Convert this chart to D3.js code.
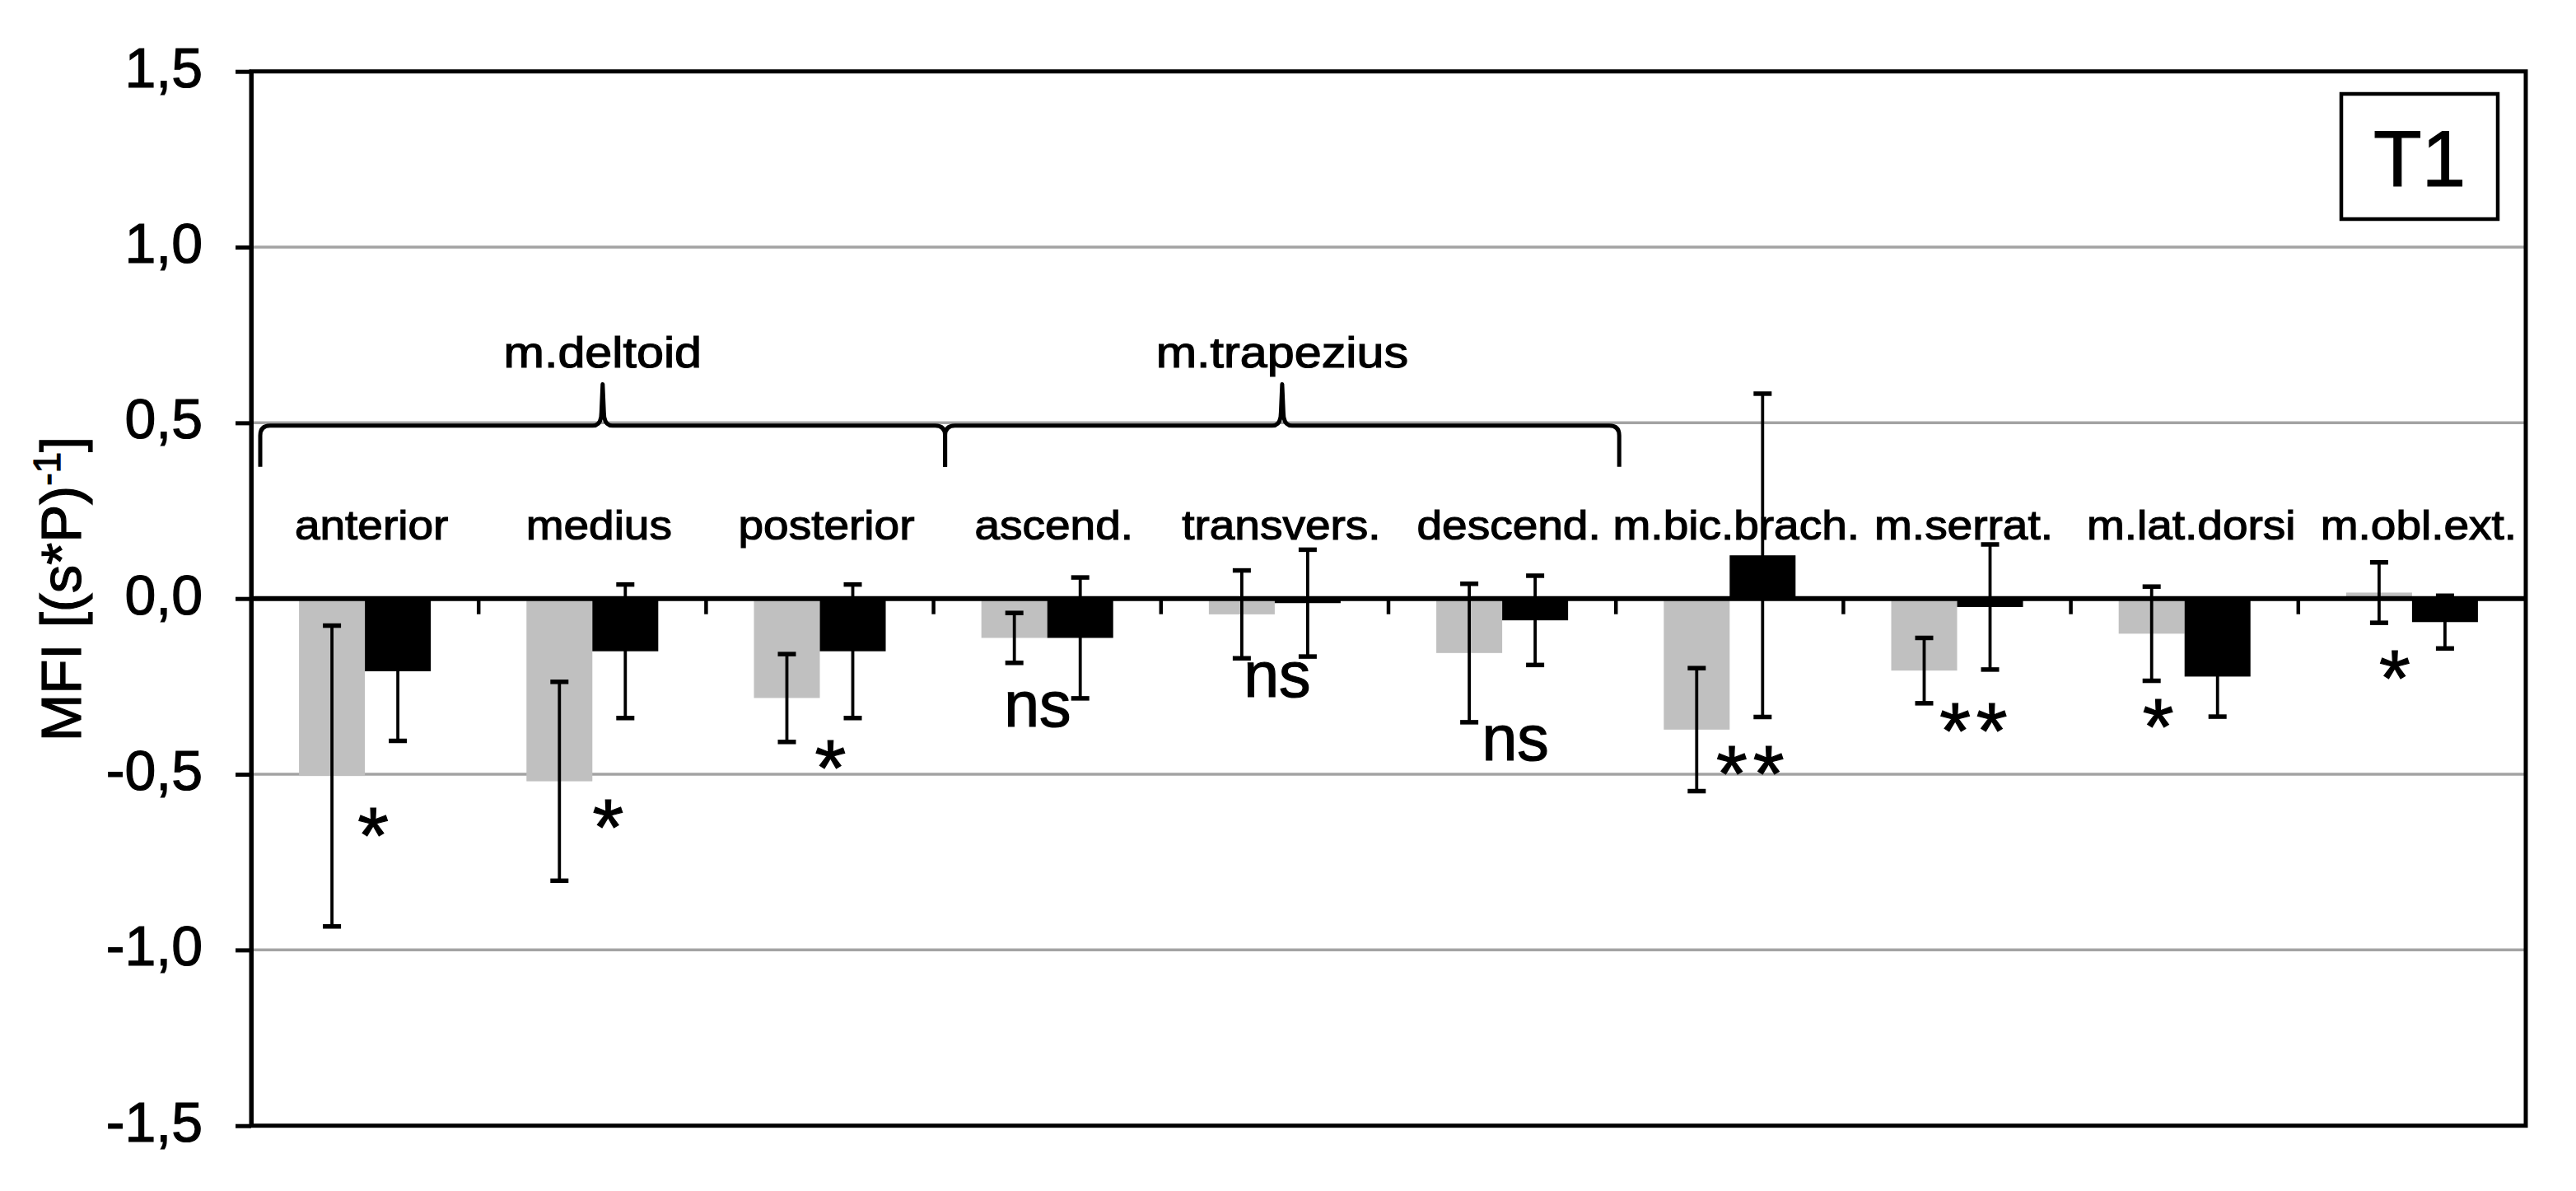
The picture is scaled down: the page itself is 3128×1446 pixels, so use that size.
<!DOCTYPE html>
<html><head><meta charset="utf-8">
<script src="https://cdn.jsdelivr.net/npm/d3@7"></script>
<style>body{margin:0;background:#fff} text{stroke:#000;stroke-width:1.2px;paint-order:stroke}</style>
</head><body><svg id="c" width="3128" height="1446" xmlns="http://www.w3.org/2000/svg"></svg>
<script>
// ---------------- data ----------------
const categories = ["anterior","medius","posterior","ascend.","transvers.","descend.","m.bic.brach.","m.serrat.","m.lat.dorsi","m.obl.ext."];
const grayMean  = [-0.505,-0.520,-0.283,-0.112,-0.045,-0.155,-0.373,-0.205,-0.100, 0.017];
const graySD    = [ 0.428, 0.283, 0.125, 0.071, 0.125, 0.197, 0.175, 0.093, 0.134, 0.086];
const blackMean = [-0.207,-0.150,-0.150,-0.112,-0.013,-0.062, 0.123,-0.024,-0.222,-0.067];
const blackSD   = [ 0.198, 0.190, 0.190, 0.172, 0.152, 0.127, 0.460, 0.178, 0.114, 0.075];
const significance = ["*","*","*","ns","ns","ns","**","**","*","*"];
const sigLevel = [-0.623,-0.600,-0.431,-0.316,-0.232,-0.412,-0.448,-0.326,-0.314,-0.176];
const sigShift = [0.036,0.069,0.047,-0.043,0.011,0.058,0.090,0.072,-0.116,-0.076];
const yTicks = [-1.5,-1.0,-0.5,0.0,0.5,1.0,1.5];
const groupLabels = ["m.deltoid","m.trapezius"];
const groupFrom = [0,3];
const groupTo = [2,5];
const yTitle = "MFI [(s*P)";
const yTitleSup = "-1";
const panelLabel = "T1";

// ---------------- layout ----------------
const FONT = "'Liberation Sans', Arial, Helvetica, sans-serif";
const L = 305, R = 3067, T = 86.7, B = 1366.7;
const svg = d3.select("#c");
const y = d3.scaleLinear().domain([-1.5, 1.5]).range([B, T]);
const x0 = d3.scaleBand().domain(categories).range([L, R]).padding(0);
const x1 = d3.scaleBand().domain(["g","b"]).range([0, x0.bandwidth()]).paddingInner(0).paddingOuter(0.726);
const cx = c => x0(c) + x0.bandwidth() / 2;

// gridlines
svg.append("g").selectAll("line").data(yTicks.filter(t => t !== 0 && Math.abs(t) !== 1.5)).join("line")
  .attr("x1", L).attr("x2", R).attr("y1", d => y(d)).attr("y2", d => y(d))
  .attr("stroke", "#a3a3a3").attr("stroke-width", 3.5);

// category labels
svg.append("g").selectAll("text").data(categories).join("text")
  .attr("transform", d => `translate(${cx(d) + 8},655) scale(1.1,1)`)
  .attr("text-anchor", "middle").attr("font-family", FONT).attr("font-size", 50).attr("fill", "#000")
  .text(d => d);

// bars
const rows = categories.map((c, i) => ({c, i}));
function bars(mean, key, color) {
  svg.append("g").selectAll("rect").data(rows).join("rect")
    .attr("x", d => x0(d.c) + x1(key)).attr("width", x1.bandwidth())
    .attr("y", d => y(Math.max(0, mean[d.i])))
    .attr("height", d => Math.abs(y(mean[d.i]) - y(0)))
    .attr("fill", color);
}
bars(grayMean, "g", "#c0c0c0");
bars(blackMean, "b", "#000000");

// zero line & category separators
svg.append("line").attr("x1", L).attr("x2", R).attr("y1", y(0)).attr("y2", y(0))
  .attr("stroke", "#000").attr("stroke-width", 6);
svg.append("g").selectAll("line").data(categories.slice(1)).join("line")
  .attr("x1", d => x0(d)).attr("x2", d => x0(d)).attr("y1", y(0)).attr("y2", y(0) + 19)
  .attr("stroke", "#000").attr("stroke-width", 4.5);

// error bars
function errs(mean, sd, key) {
  const g = svg.append("g").attr("stroke", "#000");
  rows.forEach(d => {
    const xm = x0(d.c) + x1(key) + x1.bandwidth() / 2;
    const lo = y(mean[d.i] - sd[d.i]), hi = y(mean[d.i] + sd[d.i]);
    g.append("line").attr("x1", xm).attr("x2", xm).attr("y1", lo).attr("y2", hi).attr("stroke-width", 3.8);
    [lo, hi].forEach(v => g.append("line").attr("x1", xm - 11).attr("x2", xm + 11).attr("y1", v).attr("y2", v).attr("stroke-width", 5.5));
  });
}
errs(grayMean, graySD, "g");
errs(blackMean, blackSD, "b");

// significance markers
rows.forEach(d => {
  const s = significance[d.i];
  const isStar = s.indexOf("*") >= 0;
  const fs = isStar ? 97 : 77;
  const base = y(sigLevel[d.i]) + (isStar ? 0.572 * fs : 0.26 * fs);
  svg.append("text")
    .attr("x", cx(d.c) + sigShift[d.i] * x0.bandwidth() + (isStar && s.length > 1 ? 3.5 : 0))
    .attr("y", base)
    .attr("text-anchor", "middle").attr("font-family", FONT).attr("font-size", fs)
    .attr("letter-spacing", isStar && s.length > 1 ? 7 : 0)
    .text(s);
});

// braces
function brace(xa, xb, yh, ye, yt) {
  const xc = (xa + xb) / 2, r = 12;
  const p = d3.path();
  p.moveTo(xa, ye);
  p.lineTo(xa, yh + r);
  p.quadraticCurveTo(xa, yh, xa + r, yh);
  p.lineTo(xc - 12, yh);
  p.quadraticCurveTo(xc - 1.5, yh, xc - 1.5, yh - 16);
  p.lineTo(xc, yt);
  p.lineTo(xc + 1.5, yh - 16);
  p.quadraticCurveTo(xc + 1.5, yh, xc + 12, yh);
  p.lineTo(xb - r, yh);
  p.quadraticCurveTo(xb, yh, xb, yh + r);
  p.lineTo(xb, ye);
  return p.toString();
}
groupLabels.forEach((lab, k) => {
  const xa = x0(categories[groupFrom[k]]) + (k === 0 ? 11 : 14);
  const xb = x0(categories[groupTo[k]]) + x0.bandwidth() + (k === 0 ? 14 : 4);
  svg.append("path").attr("d", brace(xa, xb, y(0.492), y(0.375), y(0.61)))
    .attr("fill", "none").attr("stroke", "#000").attr("stroke-width", 5).attr("stroke-linejoin", "round");
  svg.append("text")
    .attr("transform", `translate(${(xa + xb) / 2},446) scale(1.14,1)`)
    .attr("text-anchor", "middle").attr("font-family", FONT).attr("font-size", 52).text(lab);
});

// frame
svg.append("rect").attr("x", L).attr("y", T).attr("width", R - L).attr("height", B - T)
  .attr("fill", "none").attr("stroke", "#000").attr("stroke-width", 5);

// y axis
const fmt = d => d3.format(".1f")(d).replace(".", ",").replace("\u2212", "-");
const ax = svg.append("g").attr("transform", `translate(${L},0)`)
  .call(d3.axisLeft(y).tickValues(yTicks).tickFormat(fmt).tickSize(19).tickSizeOuter(0).tickPadding(40));
ax.select(".domain").attr("stroke-width", 5);
ax.selectAll(".tick line").attr("stroke-width", 5);
ax.selectAll(".tick text").attr("font-family", FONT).attr("font-size", 68).attr("fill", "#000").attr("dy", "0.27em");

// y title
const yt = svg.append("text").attr("transform", "translate(98,715) rotate(-90)")
  .attr("text-anchor", "middle").attr("font-family", FONT).attr("font-size", 69);
yt.append("tspan").text(yTitle);
yt.append("tspan").attr("font-size", 46).attr("dy", -25).text(yTitleSup);
yt.append("tspan").attr("dy", 25).text("]");

// panel label
svg.append("rect").attr("x", 2843).attr("y", 114).attr("width", 190).attr("height", 152)
  .attr("fill", "#fff").attr("stroke", "#000").attr("stroke-width", 4.5);
svg.append("text").attr("x", 2938).attr("y", 226).attr("text-anchor", "middle")
  .attr("font-family", FONT).attr("font-size", 96).text(panelLabel);
</script></body></html>
